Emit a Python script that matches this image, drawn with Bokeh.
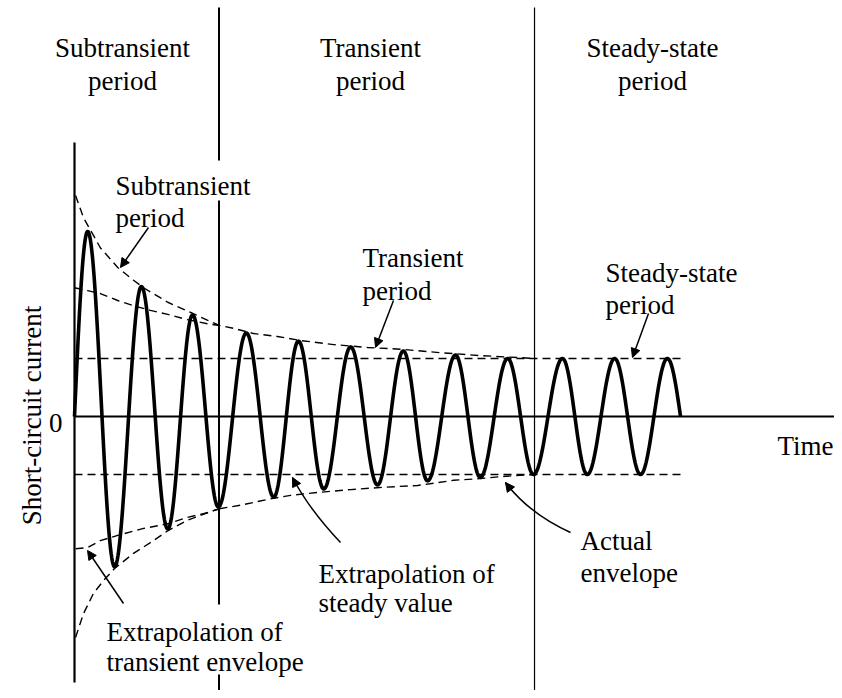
import numpy as np
from bokeh.plotting import figure
from bokeh.models import Range1d, Arrow, NormalHead
from bokeh.core.properties import value
from bokeh.embed import file_html
from bokeh.resources import INLINE

# ---------------- data (time in cycles, current in p.u. of steady amplitude) ----
peak_t = [0.25, 1.27, 2.24, 3.26, 4.25, 5.24, 6.24, 7.23, 8.22, 9.26, 10.25, 11.25]
peak_i = [3.19, 2.24, 1.75, 1.44, 1.30, 1.20, 1.13, 1.06, 1.00, 1.00, 1.00, 1.00]
trough_t = [0.76, 1.77, 2.73, 3.78, 4.73, 5.75, 6.70, 7.70, 8.71, 9.73, 10.74]
trough_i = [-2.59, -1.94, -1.56, -1.39, -1.25, -1.18, -1.11, -1.05, -1.00, -1.00, -1.00]
wave_start_t = 0.0
wave_end_t = 11.50

steady_level = 1.0

# upper subtransient / actual envelope
env_up_t = [0.02, 0.17, 0.49, 0.82, 1.12, 1.31, 1.77, 2.24, 2.52, 2.75, 3.02, 3.40,
            3.85, 4.29, 4.92, 5.56, 6.19, 6.95, 7.70, 8.75]
env_up_i = [3.81, 3.43, 2.91, 2.57, 2.35, 2.22, 1.97, 1.78, 1.66, 1.57, 1.52, 1.43,
            1.38, 1.31, 1.24, 1.19, 1.16, 1.10, 1.05, 1.00]
# upper extrapolated transient envelope
tr_up_t = [0.0, 0.25, 0.49, 0.82, 1.12, 1.44, 1.77, 2.14, 2.52, 2.75]
tr_up_i = [2.22, 2.17, 2.12, 2.00, 1.91, 1.83, 1.76, 1.67, 1.60, 1.57]
# lower subtransient envelope
env_lo_t = [0.02, 0.17, 0.36, 0.55, 0.76, 1.12, 1.50, 1.77, 2.14, 2.52, 2.75]
env_lo_i = [-3.81, -3.40, -3.05, -2.83, -2.62, -2.36, -2.14, -1.97, -1.79, -1.66, -1.59]
# lower extrapolated transient envelope
tr_lo_t = [0.02, 0.25, 0.49, 0.82, 1.31, 1.77, 2.14, 2.52, 2.75]
tr_lo_i = [-2.28, -2.26, -2.14, -2.05, -1.93, -1.85, -1.74, -1.66, -1.59]
# lower actual envelope (after subtransient period)
act_lo_t = [2.75, 3.15, 3.66, 4.10, 4.61, 5.24, 5.86, 6.51, 6.89, 7.19, 7.70, 8.18, 8.75]
act_lo_i = [-1.59, -1.53, -1.43, -1.36, -1.31, -1.26, -1.22, -1.19, -1.14, -1.10, -1.07, -1.03, -1.00]

period_bounds = [2.742, 8.729]

top_labels = [["Subtransient", "period"], ["Transient", "period"], ["Steady-state", "period"]]

# ---------------- build waveform from extrema ----------------
ext_t = [wave_start_t]
ext_i = [0.0]
for k in range(len(peak_t)):
    ext_t.append(peak_t[k]); ext_i.append(peak_i[k])
    if k < len(trough_t):
        ext_t.append(trough_t[k]); ext_i.append(trough_i[k])
ext_t.append(wave_end_t); ext_i.append(0.0)

wx, wy = [], []
n = len(ext_t)
for k in range(n - 1):
    s = np.linspace(0, 1, 40)
    ta, tb = ext_t[k], ext_t[k + 1]
    va, vb = ext_i[k], ext_i[k + 1]
    if k == 0:
        seg = vb * np.sin(np.pi / 2 * s)
    elif k == n - 2:
        seg = va * np.cos(np.pi / 2 * s)
    else:
        seg = (va + vb) / 2 + (va - vb) / 2 * np.cos(np.pi * s)
    wx.extend(list(ta + (tb - ta) * s))
    wy.extend(list(seg))

# ---------------- figure ----------------
W, H = 834, 690
X0 = -74 / 52.7
X1 = X0 + W / 52.7
Y1 = 416 / 58.0
Y0 = Y1 - H / 58.0
p = figure(width=W, height=H, x_range=Range1d(X0, X1), y_range=Range1d(Y0, Y1),
           output_backend="svg", toolbar_location=None, min_border=0,
           x_axis_type=None, y_axis_type=None)
p.grid.visible = False
p.outline_line_color = None
p.background_fill_color = "white"
p.border_fill_color = "white"

FONT = value("Liberation Serif")
FS = value("27px")

# axes
p.line([0, 0], [4.724, -4.586], line_color="black", line_width=2.2)
p.line([0, X1], [0, 0], line_color="black", line_width=2.2)

# period boundaries
b1, b2 = period_bounds
for ya, yb in [(7.05, 4.414), (3.724, -3.241), (-4.448, Y0)]:
    p.line([b1, b1], [ya, yb], line_color="black", line_width=2.0)
p.line([b2, b2], [7.05, Y0], line_color="black", line_width=1.2)

# steady-state dashed levels
DASH = "8 5"
p.line([0, wave_end_t], [steady_level, steady_level], line_color="black", line_width=1.4, line_dash=DASH)
p.line([0, wave_end_t], [-steady_level, -steady_level], line_color="black", line_width=1.4, line_dash=DASH)

# envelopes
for xs, ys in [(env_up_t, env_up_i), (tr_up_t, tr_up_i), (env_lo_t, env_lo_i),
               (tr_lo_t, tr_lo_i), (act_lo_t, act_lo_i)]:
    p.line(xs, ys, line_color="black", line_width=1.4, line_dash=DASH)

# waveform
p.line(wx, wy, line_color="black", line_width=3.6, line_join="round")

# top labels
top_x = [0.911, 5.617, 10.968]
for cx, lines in zip(top_x, top_labels):
    p.text(x=[cx, cx], y=[6.345, 5.776], text=lines, text_font=FONT, text_font_size=FS,
           text_align="center", text_baseline="alphabetic", text_color="black")

# annotations (left aligned)
ann = [
    (0.778, [3.966, 3.431], ["Subtransient", "period"]),
    (5.465, [2.741, 2.172], ["Transient", "period"]),
    (10.076, [2.466, 1.914], ["Steady-state", "period"]),
    (4.630, [-2.707, -3.224], ["Extrapolation of", "steady value"]),
    (9.602, [-2.138, -2.690], ["Actual", "envelope"]),
    (0.607, [-3.724, -4.241], ["Extrapolation of", "transient envelope"]),
]
for ax_, ys, lines in ann:
    p.text(x=[ax_, ax_], y=ys, text=lines, text_font=FONT, text_font_size=FS,
           text_align="left", text_baseline="alphabetic", text_color="black")

# axis texts
p.text(x=[-0.228], y=[-0.12], text=["0"], text_font=FONT, text_font_size=FS,
       text_align="right", text_baseline="alphabetic", text_color="black")
p.text(x=[X1 - 0.02], y=[-0.50], text=["Time"], text_font=FONT, text_font_size=FS,
       text_align="right", text_baseline="alphabetic", text_color="black")
p.text(x=[-0.797], y=[0.017], text=["Short-circuit current"], text_font=FONT, text_font_size=FS,
       text_align="center", text_baseline="alphabetic", text_color="black", angle=np.pi / 2)

# straight arrows
def head():
    return NormalHead(size=9, fill_color="black", line_color="black", line_width=1)

for (xs, ys, xe, ye) in [(1.404, 3.259, 0.873, 2.569),
                         (6.053, 2.0, 5.712, 1.19),
                         (10.892, 1.776, 10.588, 1.017),
                         (0.930, -3.224, 0.247, -2.310)]:
    p.add_layout(Arrow(end=head(), x_start=xs, y_start=ys, x_end=xe, y_end=ye,
                       line_color="black", line_width=1.5))

# curved arrows
for (xs, ys, cx, cy, xe, ye) in [(5.047, -2.172, 4.440, -1.586, 4.137, -1.052),
                                 (9.412, -2.0, 8.624, -1.672, 8.178, -1.138)]:
    p.quadratic(x0=[xs], y0=[ys], cx=[cx], cy=[cy], x1=[xe], y1=[ye],
                line_color="black", line_width=1.5)
    p.add_layout(Arrow(end=head(), x_start=cx, y_start=cy, x_end=xe, y_end=ye,
                       line_alpha=0))

open("out.html", "w").write(file_html(p, INLINE))
